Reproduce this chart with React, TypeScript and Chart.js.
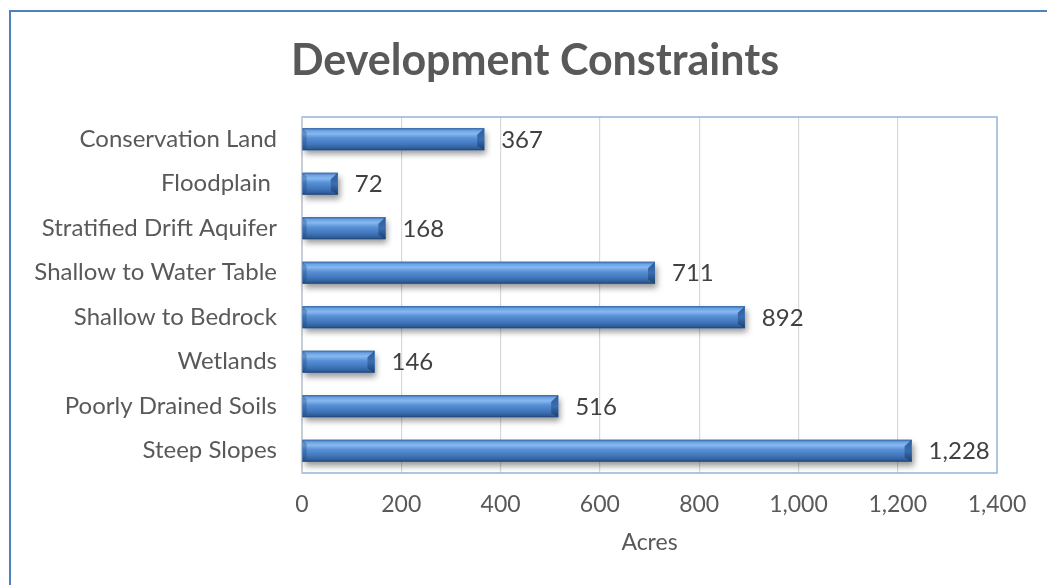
import React, { useEffect, useRef } from "react";
import { Chart, registerables } from "chart.js";

Chart.register(...registerables);

const categories = [
  "Conservation Land",
  "Floodplain ",
  "Stratified Drift Aquifer",
  "Shallow to Water Table",
  "Shallow to Bedrock",
  "Wetlands",
  "Poorly Drained Soils",
  "Steep Slopes",
];
const acres = [367, 72, 168, 711, 892, 146, 516, 1228];
const xTicks = [0, 200, 400, 600, 800, 1000, 1200, 1400];
const chartTitle = "Development Constraints";

const FONT = "Lato, 'Open Sans', sans-serif";
const fmt = (v: number) => v.toLocaleString("en-US");

const titlePlugin = {
  id: "titleText",
  afterDraw(chart: any) {
    const { ctx } = chart;
    ctx.save();
    ctx.fillStyle = "#595959";
    ctx.font = `bold 43px ${FONT}`;
    ctx.textAlign = "center";
    ctx.textBaseline = "middle";
    ctx.fillText(chartTitle, 535, 61);
    ctx.restore();
  },
};

const plotBorder = {
  id: "plotBorder",
  beforeDatasetsDraw(chart: any) {
    const { ctx, chartArea: a } = chart;
    ctx.save();
    ctx.strokeStyle = "#95b3d7";
    ctx.lineWidth = 1.5;
    ctx.strokeRect(a.left, a.top, a.right - a.left, a.bottom - a.top);
    ctx.strokeStyle = "#d0d0d0";
    ctx.beginPath();
    ctx.moveTo(a.left, a.top);
    ctx.lineTo(a.left, a.bottom);
    ctx.stroke();
    const meta = chart.getDatasetMeta(0);
    meta.data.forEach((el: any) => {
      const h = el.height;
      const x0 = el.base;
      const x1 = el.x;
      const yT = el.y - h / 2;
      ctx.save();
      ctx.shadowColor = "rgba(0,0,0,0.4)";
      ctx.shadowBlur = 6;
      ctx.shadowOffsetX = 2;
      ctx.shadowOffsetY = 4;
      ctx.fillStyle = "#3a6aa8";
      ctx.fillRect(x0, yT, x1 - x0, h);
      ctx.restore();
    });
    ctx.restore();
  },
};

const bevelBars = {
  id: "bevelBars",
  afterDatasetsDraw(chart: any) {
    const { ctx } = chart;
    const meta = chart.getDatasetMeta(0);
    ctx.save();
    meta.data.forEach((el: any, i: number) => {
      const h = el.height;
      const x0 = el.base;
      const x1 = el.x;
      const yT = el.y - h / 2;
      const yB = el.y + h / 2;
      const g = ctx.createLinearGradient(0, yT, 0, yB);
      g.addColorStop(0, "#3366a6");
      g.addColorStop(0.1, "#6da2e2");
      g.addColorStop(0.25, "#86b9f0");
      g.addColorStop(0.45, "#5890d6");
      g.addColorStop(0.75, "#3f74b8");
      g.addColorStop(0.92, "#2f5d99");
      g.addColorStop(1, "#1f4270");
      ctx.fillStyle = g;
      ctx.fillRect(x0, yT, x1 - x0, h);
      const b = Math.min(7, (x1 - x0) / 3);
      const gr = ctx.createLinearGradient(0, yT, 0, yB);
      gr.addColorStop(0, "#2c5b98");
      gr.addColorStop(0.5, "#3a6db0");
      gr.addColorStop(1, "#1d3f6c");
      ctx.fillStyle = gr;
      ctx.beginPath();
      ctx.moveTo(x1 - b, yT + b * 0.9);
      ctx.lineTo(x1, yT);
      ctx.lineTo(x1, yB);
      ctx.lineTo(x1 - b, yB - b * 0.6);
      ctx.closePath();
      ctx.fill();
      ctx.fillStyle = "rgba(30,70,120,0.35)";
      ctx.beginPath();
      ctx.moveTo(x0, yT);
      ctx.lineTo(x0 + 4, yT + 4);
      ctx.lineTo(x0 + 4, yB - 3);
      ctx.lineTo(x0, yB);
      ctx.closePath();
      ctx.fill();
      ctx.fillStyle = "#404040";
      ctx.font = `24px ${FONT}`;
      ctx.textAlign = "left";
      ctx.textBaseline = "middle";
      ctx.fillText(fmt(acres[i]), x1 + 17, el.y + 1);
    });
    ctx.restore();
  },
};

export default function App() {
  const ref = useRef<HTMLCanvasElement | null>(null);
  useEffect(() => {
    if (!ref.current) return;
    const chart = new Chart(ref.current, {
      type: "bar",
      data: {
        labels: categories,
        datasets: [
          {
            data: acres,
            backgroundColor: "#4f81bd",
            borderWidth: 0,
            barPercentage: 0.49,
            categoryPercentage: 1,
          },
        ],
      },
      options: {
        indexAxis: "y",
        animation: false,
        responsive: true,
        maintainAspectRatio: false,
        layout: { padding: { left: 10, right: 50, top: 117, bottom: 29 } },
        plugins: {
          legend: { display: false },
          tooltip: { enabled: false },
          title: { display: false },
        },
        scales: {
          x: {
            min: 0,
            max: 1400,
            afterBuildTicks: (s: any) => {
              s.ticks = xTicks.map((v) => ({ value: v }));
            },
            afterFit: (s: any) => {
              s.height = 83;
            },
            grid: {
              color: (c: any) => (c.tick && c.tick.value > 0 && c.tick.value < 1400 ? "#d9d9d9" : "rgba(0,0,0,0)"),
              drawTicks: false,
              lineWidth: 1.2,
            },
            border: { display: false },
            ticks: {
              color: "#595959",
              font: { family: FONT, size: 23 },
              padding: 18,
              callback: (v: any) => fmt(Number(v)),
            },
            title: {
              display: true,
              text: "Acres",
              color: "#595959",
              font: { family: FONT, size: 23 },
              padding: 0,
            },
          },
          y: {
            afterFit: (s: any) => {
              s.width = 292;
            },
            grid: { display: false, drawTicks: false },
            border: { display: false },
            ticks: {
              color: "#595959",
              font: { family: FONT, size: 24 },
              padding: 25,
            },
          },
        },
      },
      plugins: [plotBorder, bevelBars, titlePlugin],
    });
    return () => chart.destroy();
  }, []);
  return (
    <div style={{ position: "absolute", left: 0, top: 0, width: 1047, height: 585, background: "#fff", overflow: "hidden" }}>
      <div
        style={{
          position: "absolute",
          left: 9,
          top: 10,
          width: 1060,
          height: 600,
          borderLeft: "2px solid #4f81bd",
          borderTop: "2px solid #4f81bd",
        }}
      />
      <div style={{ position: "absolute", left: 0, top: 0, width: 1047, height: 585 }}>
        <canvas ref={ref} />
      </div>
    </div>
  );
}
